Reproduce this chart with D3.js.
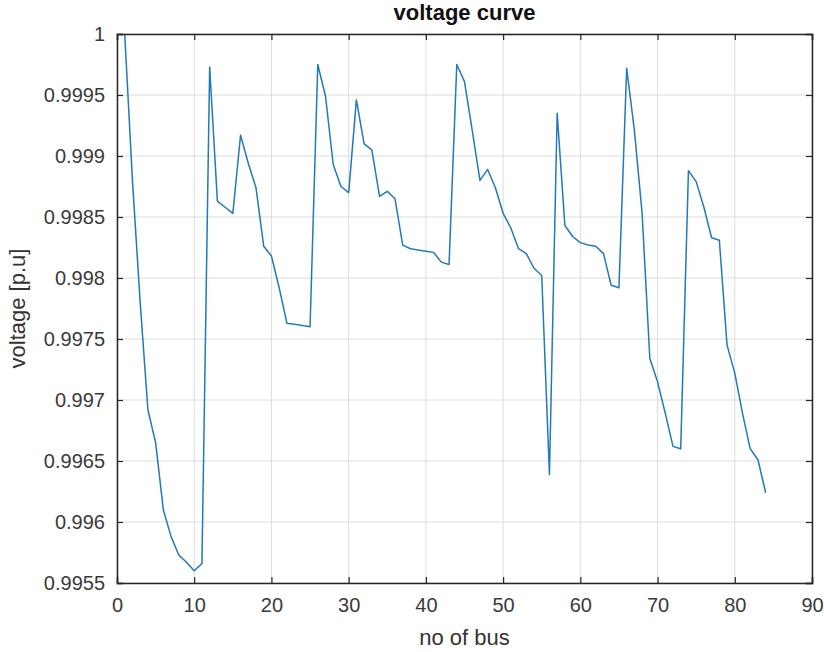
<!DOCTYPE html>
<html>
<head>
<meta charset="utf-8">
<script src="https://cdn.jsdelivr.net/npm/d3@7"></script>
<style>
  body { margin: 0; background: #fff; }
  svg { font-family: "Liberation Sans", Arial, sans-serif; }
</style>
</head>
<body>
<svg width="824" height="652"></svg>
<script>
// bus number and voltage values
var buses = d3.range(1, 85);
var voltage = [
  1.0, 0.9988, 0.9978, 0.99692, 0.99665, 0.9961, 0.99588, 0.99573, 0.99567, 0.9956,
  0.99566, 0.99973, 0.99863, 0.99858, 0.99853, 0.99917, 0.99894, 0.99874, 0.99826, 0.99818,
  0.99792, 0.99763, 0.99762, 0.99761, 0.9976, 0.99975, 0.99949, 0.99893, 0.99875, 0.9987,
  0.99946, 0.9991, 0.99905, 0.99867, 0.99871, 0.99865, 0.99827, 0.99824, 0.99823, 0.99822,
  0.99821, 0.99813, 0.99811, 0.99975, 0.99961, 0.99921, 0.9988, 0.99889, 0.99874, 0.99853,
  0.99841, 0.99824, 0.9982, 0.99808, 0.99802, 0.99639, 0.99935, 0.99843, 0.99834, 0.99829,
  0.99827, 0.99826, 0.9982, 0.99794, 0.99792, 0.99972, 0.99921, 0.99853, 0.99734, 0.99715,
  0.99689, 0.99662, 0.9966, 0.99888, 0.99879, 0.99858, 0.99833, 0.99831, 0.99745, 0.99722,
  0.99689, 0.9966, 0.99651, 0.99624
];
var xTicks = [0, 10, 20, 30, 40, 50, 60, 70, 80, 90];
var yTicks = [0.9955, 0.996, 0.9965, 0.997, 0.9975, 0.998, 0.9985, 0.999, 0.9995, 1];

var svg = d3.select("svg");
var margin = { left: 117, right: 12, top: 34, bottom: 69 };
var width = +svg.attr("width") - margin.left - margin.right,
  height = +svg.attr("height") - margin.top - margin.bottom;

var x = d3.scaleLinear().domain([0, 90]).range([0, width]);
var y = d3.scaleLinear().domain([0.9955, 1]).range([height, 0]);

var g = svg.append("g")
  .attr("transform", "translate(" + margin.left + "," + margin.top + ")");

// grid
g.append("g").selectAll("line").data(xTicks).enter().append("line")
  .attr("x1", function (d) { return x(d); })
  .attr("x2", function (d) { return x(d); })
  .attr("y1", 0).attr("y2", height)
  .attr("stroke", "#dcdcdc").attr("stroke-width", 1);
g.append("g").selectAll("line").data(yTicks).enter().append("line")
  .attr("y1", function (d) { return y(d); })
  .attr("y2", function (d) { return y(d); })
  .attr("x1", 0).attr("x2", width)
  .attr("stroke", "#dcdcdc").attr("stroke-width", 1);

// the curve
var line = d3.line()
  .x(function (d, i) { return x(buses[i]); })
  .y(function (d) { return y(d); });
g.append("path")
  .datum(voltage)
  .attr("d", line)
  .attr("fill", "none")
  .attr("stroke", "#2479b7")
  .attr("stroke-width", 1.5)
  .attr("stroke-linejoin", "round");

// axes
var fmt = function (d) { return d3.format("")(+d.toFixed(4)); };
var xAxis = g.append("g").attr("transform", "translate(0," + height + ")")
  .call(d3.axisBottom(x).tickValues(xTicks).tickSize(-6).tickPadding(15));
var yAxis = g.append("g")
  .call(d3.axisLeft(y).tickValues(yTicks).tickSize(-6).tickPadding(12).tickFormat(fmt));
var xTop = g.append("g")
  .call(d3.axisTop(x).tickValues(xTicks).tickSize(-6).tickFormat(""));
var yRight = g.append("g").attr("transform", "translate(" + width + ",0)")
  .call(d3.axisRight(y).tickValues(yTicks).tickSize(-6).tickFormat(""));

[xAxis, yAxis, xTop, yRight].forEach(function (a) {
  a.select(".domain").attr("stroke", "#262626").attr("stroke-width", 1.5);
  a.selectAll(".tick line").attr("stroke", "#262626").attr("stroke-width", 1.2);
  a.selectAll("text").attr("fill", "#3a3a3a").style("font-size", "20px");
});

// labels
svg.append("text")
  .attr("x", margin.left + width / 2).attr("y", 20)
  .attr("text-anchor", "middle")
  .style("font-size", "22px").style("font-weight", "bold")
  .attr("fill", "#111")
  .text("voltage curve");
svg.append("text")
  .attr("x", margin.left + width / 2).attr("y", 645)
  .attr("text-anchor", "middle")
  .style("font-size", "22px").attr("fill", "#333")
  .text("no of bus");
svg.append("text")
  .attr("transform", "translate(25," + (margin.top + height / 2) + ") rotate(-90)")
  .attr("text-anchor", "middle")
  .style("font-size", "22px").attr("fill", "#333")
  .text("voltage [p.u]");
</script>
</body>
</html>
